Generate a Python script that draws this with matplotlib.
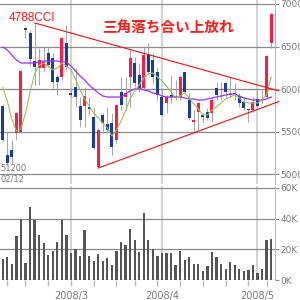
import matplotlib
matplotlib.use("Agg")
import matplotlib.pyplot as plt
import numpy as np

# ==============================
# Price data (daily OHLC, 2008/02/12 - 2008/05)
# ==============================
opens = [58000, 52240, 52830, 54830, 54950, 67180, 66590, 63300, 62470, 62470,
         64240, 63650, 61420, 61420, 65410, 59530, 60240, 58000, 58000, 57890,
         56710, 50830, 56950, 55890, 56000, 54010, 59650, 59060, 61420, 63060,
         61650, 60120, 64000, 63410, 62000, 59060, 58360, 59300, 58950, 59060,
         62000, 58710, 56120, 57300, 56950, 57300, 57180, 60120, 59890, 60710,
         59420, 59420, 59180, 58480, 57650, 57530, 58830, 58830, 59060, 65410]
closes = [54010, 51300, 52010, 57180, 62120, 66940, 63530, 62590, 63410, 63180,
          62830, 60830, 60830, 66000, 62590, 59300, 59060, 56360, 59180, 57650,
          53070, 55180, 56000, 55180, 53180, 58120, 58120, 59530, 63650, 60710,
          60120, 64000, 62000, 61420, 59300, 56950, 59060, 59060, 59180, 61420,
          59650, 56590, 56360, 58360, 56710, 56590, 58710, 59300, 60000, 59650,
          59300, 59530, 58360, 57770, 57530, 58480, 58000, 58710, 63880, 68820]
highs = [58240, 54950, 54010, 57300, 62240, 67300, 66940, 67770, 64830, 64940,
         64940, 64240, 61650, 66120, 67530, 60120, 62470, 59060, 60240, 59060,
         57890, 55420, 57180, 57890, 57180, 58240, 61420, 61420, 64590, 63770,
         63060, 64940, 65410, 64240, 62590, 59890, 59300, 61650, 61060, 61650,
         62000, 59530, 57530, 58480, 57180, 57770, 58950, 60830, 60830, 60830,
         61420, 60710, 59530, 59060, 57770, 59060, 59890, 60000, 64000, 68940]
lows = [53770, 51200, 51300, 54010, 54830, 66000, 62710, 60470, 60470, 62000,
        62590, 60120, 59300, 61060, 62240, 59060, 57890, 55540, 55540, 56950,
        52950, 50710, 54830, 54830, 52240, 53650, 57530, 57530, 57890, 60240,
        59650, 59890, 61890, 60710, 58710, 56950, 57180, 58360, 58710, 58710,
        59530, 56360, 54950, 55180, 56120, 56360, 56120, 58710, 58710, 59060,
        59060, 58710, 57890, 57530, 56120, 57300, 57890, 58360, 58950, 64830]

# moving averages as drawn on the chart
ma_short = [60240, 58590, 56470, 55060, 55300, 57180, 59650, 61770, 62830, 63060,
            62710, 62240, 62470, 63060, 62710, 62240, 61180, 59890, 58830, 58000,
            57180, 56590, 56000, 55420, 54480, 55180, 56240, 57420, 58830, 59770,
            60470, 61300, 61770, 61890, 61420, 60940, 60360, 59650, 58950, 59180,
            59530, 58950, 58240, 57650, 56950, 56950, 57530, 57890, 58360, 58830,
            59060, 59300, 58950, 58480, 58360, 58360, 58360, 58710, 59300, 61420]
ma_long = [64940, 64590, 64000, 63410, 63060, 63060, 63060, 63060, 63180, 63300,
           63300, 63300, 63300, 63180, 63180, 62710, 62120, 61530, 61060, 60470,
           60000, 59530, 59180, 59060, 59060, 59060, 59060, 59420, 59770, 60000,
           60120, 59890, 59770, 59530, 59420, 59180, 59060, 59060, 59060, 59060,
           58950, 58830, 58830, 58710, 58710, 58830, 58950, 59060, 59180, 59300,
           59420, 59420, 59180, 58950, 58830, 58710, 58710, 58710, 58830, 59060]

# volume (K shares)
volume = [13.8, 14.9, 10.4, 28.5, 39.8, 11.0, 47.4, 39.0, 29.2, 24.0,
          16.2, 18.8, 24.6, 39.0, 29.2, 17.5, 20.1, 15.6, 32.4, 15.6,
          12.3, 16.9, 12.3, 14.3, 9.7, 18.8, 24.6, 22.7, 33.1, 25.9,
          18.2, 43.5, 25.9, 19.9, 15.6, 17.5, 17.5, 17.5, 9.7, 18.8,
          13.0, 14.9, 10.4, 10.4, 5.8, 9.1, 18.2, 14.9, 10.4, 7.1,
          11.7, 9.7, 7.1, 5.8, 6.5, 9.7, 4.5, 7.1, 25.9, 26.6]

# triangle lines (bar index, price)
upper_x = [7, 60.7]
upper_y = [67770, 59770]
lower_x = [21, 60.7]
lower_y = [50710, 58530]

month_idx = [15, 35, 56]
month_labels = ["2008/3", "2008/4", "2008/5"]
week_idx = [1, 5, 10, 15, 20, 25, 29, 34, 39, 44, 49, 54, 58]

price_ticks = [50000, 55000, 60000, 65000, 70000]
vol_ticks = [0, 20, 40, 60]
vol_labels = ["0K", "20K", "40K", "60K"]

RED = "#ff1a4a"
BLUE = "#1a3c9c"
WICK = "#a8a8a8"
GRID = "#8a8a8a"
LIGHT = "#d4d4d4"
LABEL = "#7a7a7a"
NARROW = ["Liberation Sans Narrow", "DejaVu Sans"]

x = np.arange(len(opens))
o = np.array(opens)
c = np.array(closes)
up = c >= o

fig = plt.figure(figsize=(3, 3), dpi=100)
ax = fig.add_axes([0, 1 - 184 / 300, 275 / 300, 184 / 300])
axv = fig.add_axes([0, 20 / 300, 275 / 300, 94 / 300])

for a in (ax, axv):
    for s in ("top", "left", "bottom"):
        a.spines[s].set_visible(False)
    a.spines["right"].set_color("#b8b8b8")
    a.spines["right"].set_linewidth(0.8)
    a.set_xlim(-0.6, 59.85)
    a.yaxis.tick_right()
    a.tick_params(axis="y", length=3, color=GRID, labelsize=6.5, labelcolor=LABEL, pad=1)
    for m in month_idx:
        a.axvline(m, color=LIGHT, lw=1.5, zorder=0)

# price panel
ax.set_ylim(48830, 70470)
ax.set_yticks(price_ticks)
ax.set_yticklabels([str(t) for t in price_ticks], family=NARROW)
for t in price_ticks:
    ax.axhline(t, color=GRID, lw=0.9, zorder=0.5)
ax.set_xticks([])

ax.vlines(x, lows, highs, color=WICK, lw=0.8, zorder=2)
body_h = np.maximum(np.abs(c - o), 150)
ax.bar(x, body_h, bottom=np.minimum(o, c), width=0.66,
       color=np.where(up, RED, BLUE), zorder=3)

ax.plot(x, ma_long, color="#9a30ff", lw=0.9, zorder=4)
ax.plot(x, ma_short, color="#a0c050", lw=0.8, zorder=4)
ax.plot(upper_x, upper_y, color="#ff0000", lw=0.75, zorder=5, clip_on=False)
ax.plot(lower_x, lower_y, color="#ff0000", lw=0.75, zorder=5, clip_on=False)

ax.text(0.03, 0.935, "4788CCI", transform=ax.transAxes, color="#ff1a1a",
        fontsize=8.5, family=["Liberation Sans", "DejaVu Sans"], va="top")
ax.text(0.61, 0.855, "三角落ち合い上放れ", transform=ax.transAxes, color="#ff1a1a",
        fontsize=10.5, fontweight="bold", ha="center", va="center",
        family=["Noto Sans CJK JP", "DejaVu Sans"])
ax.text(-0.5, 51200, "51200", color=LABEL, fontsize=6, family=NARROW,
        va="top", ha="left")
ax.text(-0.5, 49900, "02/12", color=LABEL, fontsize=6, family=NARROW,
        va="top", ha="left")

# volume panel
axv.set_ylim(0, 61.3)
axv.set_yticks(vol_ticks)
axv.set_yticklabels(vol_labels, family=NARROW)
for t in vol_ticks:
    axv.axhline(t, color=GRID, lw=0.9, zorder=0.5)
axv.bar(x, volume, width=0.5, color="#555555", zorder=3)
axv.set_xticks(week_idx)
axv.set_xticklabels([])
axv.tick_params(axis="x", length=4, color="#b8b8b8", width=1)
for m, lab in zip(month_idx, month_labels):
    axv.text(m, -7, lab, ha="center", va="top", fontsize=7, color=LABEL, family=NARROW)

fig.savefig("out.png", dpi=100)
